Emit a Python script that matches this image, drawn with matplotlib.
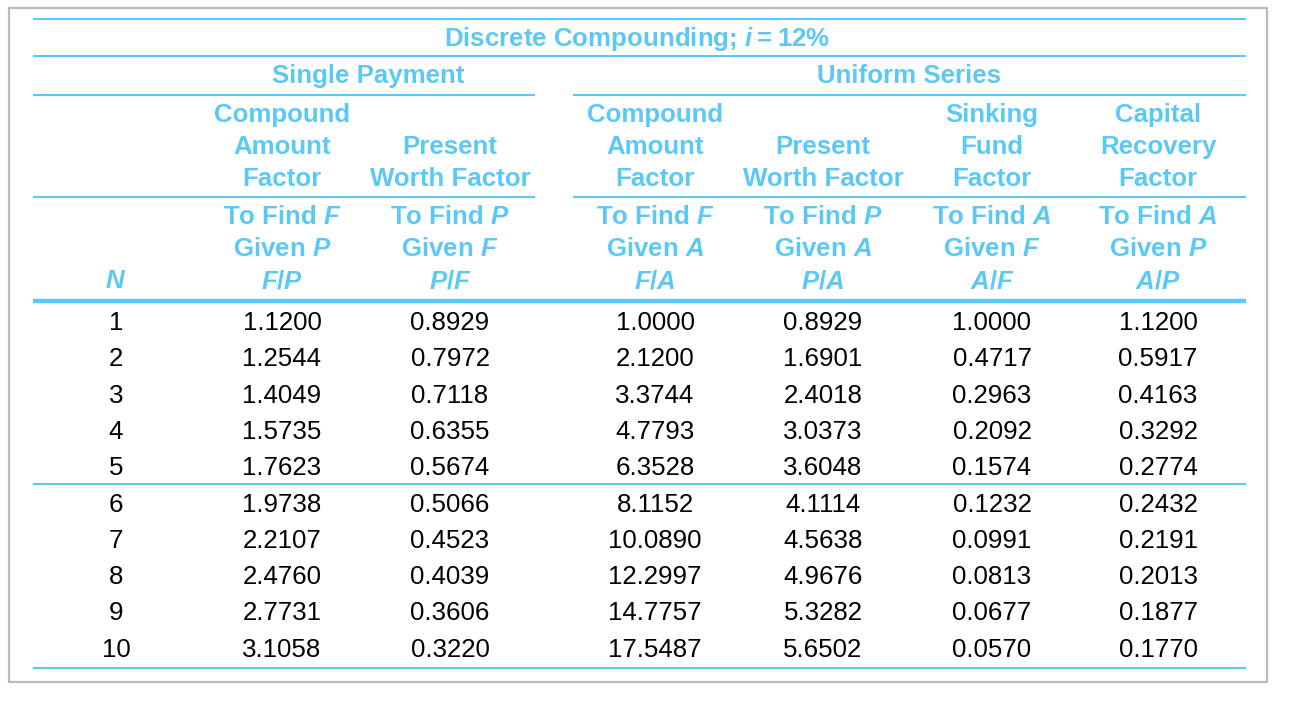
import matplotlib
matplotlib.use("Agg")
import matplotlib.pyplot as plt
from matplotlib.patches import Rectangle

plt.rcParams['font.family'] = ['Liberation Sans', 'DejaVu Sans']
plt.rcParams['mathtext.fontset'] = 'custom'
plt.rcParams['mathtext.it'] = 'Liberation Sans:italic:bold'
plt.rcParams['mathtext.rm'] = 'Liberation Sans:bold'
plt.rcParams['mathtext.bf'] = 'Liberation Sans:bold'

# ---------------- data ----------------
title = "Discrete Compounding; $\\mathit{i}$\u2009=\u200912%"
group_labels = ["Single Payment", "Uniform Series"]
factor_names = [
    ["Compound", "Amount", "Factor"],
    ["Present", "Worth Factor"],
    ["Compound", "Amount", "Factor"],
    ["Present", "Worth Factor"],
    ["Sinking", "Fund", "Factor"],
    ["Capital", "Recovery", "Factor"],
]
find_given = [
    [r"To Find $\mathit{F}$", r"Given $\mathit{P}$", r"$\mathit{F/P}$"],
    [r"To Find $\mathit{P}$", r"Given $\mathit{F}$", r"$\mathit{P/F}$"],
    [r"To Find $\mathit{F}$", r"Given $\mathit{A}$", r"$\mathit{F/A}$"],
    [r"To Find $\mathit{P}$", r"Given $\mathit{A}$", r"$\mathit{P/A}$"],
    [r"To Find $\mathit{A}$", r"Given $\mathit{F}$", r"$\mathit{A/F}$"],
    [r"To Find $\mathit{A}$", r"Given $\mathit{P}$", r"$\mathit{A/P}$"],
]
N = [1, 2, 3, 4, 5, 6, 7, 8, 9, 10]
FP = ["1.1200", "1.2544", "1.4049", "1.5735", "1.7623", "1.9738", "2.2107", "2.4760", "2.7731", "3.1058"]
PF = ["0.8929", "0.7972", "0.7118", "0.6355", "0.5674", "0.5066", "0.4523", "0.4039", "0.3606", "0.3220"]
FA = ["1.0000", "2.1200", "3.3744", "4.7793", "6.3528", "8.1152", "10.0890", "12.2997", "14.7757", "17.5487"]
PA = ["0.8929", "1.6901", "2.4018", "3.0373", "3.6048", "4.1114", "4.5638", "4.9676", "5.3282", "5.6502"]
AF = ["1.0000", "0.4717", "0.2963", "0.2092", "0.1574", "0.1232", "0.0991", "0.0813", "0.0677", "0.0570"]
AP = ["1.1200", "0.5917", "0.4163", "0.3292", "0.2774", "0.2432", "0.2191", "0.2013", "0.1877", "0.1770"]
columns = [FP, PF, FA, PA, AF, AP]

# ---------------- layout ----------------
W, H = 1294, 712
BLUE = "#5bc8f5"
fig = plt.figure(figsize=(W / 100, H / 100), dpi=100)
ax = fig.add_axes([0, 0, 1, 1])
ax.set_xlim(0, W)
ax.set_ylim(H, 0)
ax.axis("off")

ax.add_patch(Rectangle((8.5, 8), 1258, 674, fill=False, edgecolor="#bbbbbb", lw=1.6))

x0, x1 = 33, 1246
sp_x = (33, 535)
us_x = (573, 1246)
col_x = [282, 450, 655, 823, 992, 1158]
n_x = 116
fs = 18.6

def hline(y, xa, xb, lw=1.5):
    ax.plot([xa, xb], [y, y], color=BLUE, lw=lw, solid_capstyle="butt")

hline(19, x0, x1)
hline(56, x0, x1)
for xa, xb in (sp_x, us_x):
    hline(95, xa, xb)
    hline(197, xa, xb)
hline(301, x0, x1, lw=3.2)
hline(484, x0, x1)
hline(668, x0, x1)

def htext(x, ycenter, s):
    ax.text(x, ycenter + 9.3, s, color=BLUE, fontsize=fs, fontweight="bold",
            ha="center", va="baseline")

htext(637, 37, title)
htext(368, 74, group_labels[0])
htext(909, 74, group_labels[1])

line_y = [113, 145, 177]
for cx, names in zip(col_x, factor_names):
    ys = line_y[-len(names):]
    for y, s in zip(ys, names):
        htext(cx, y, s)

fg_y = [215, 247, 279]
for cx, lines in zip(col_x, find_given):
    for y, s in zip(fg_y, lines):
        htext(cx, y, s)
htext(n_x, 279, r"$\mathit{N}$")

row_y0, row_dy = 321, 36.3
for i, n in enumerate(N):
    yb = row_y0 + i * row_dy + 9
    ax.text(n_x, yb, str(n), fontsize=fs, ha="center", va="baseline", color="black")
    for cx, col in zip(col_x, columns):
        ax.text(cx, yb, col[i], fontsize=fs, ha="center", va="baseline", color="black")

fig.savefig("out.png", dpi=100)
